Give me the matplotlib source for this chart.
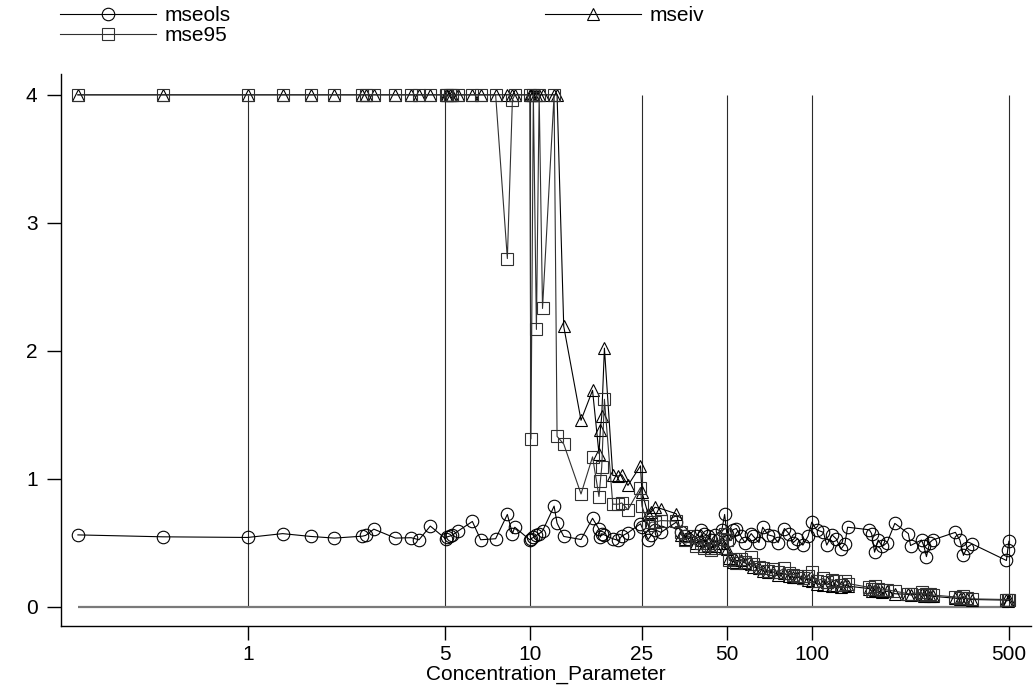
import matplotlib
matplotlib.use("Agg")
import matplotlib.pyplot as plt
from matplotlib.lines import Line2D

plt.rcParams["font.family"] = ["Liberation Sans", "DejaVu Sans"]

# concentration parameter values (shared by all three series)
conc = [0.25, 0.5, 1.0, 1.33, 1.67, 2.03, 2.55, 2.62, 2.8, 3.34, 3.8, 4.05, 4.44,
        5.03, 5.07, 5.2, 5.3, 5.57, 6.26, 6.7, 7.57, 8.33, 8.68, 8.85,
        10.0, 10.1, 10.3, 10.56, 10.8, 11.1, 12.2, 12.5, 13.2,
        15.2, 16.7, 17.6, 17.8, 18.0, 18.4, 19.7, 20.6, 21.2, 22.3, 24.7, 25.0,
        26.3, 27.0, 27.8, 29.2,
        33.1, 34.5, 35.5, 36.5, 39, 40.5, 41.5, 43, 44, 45.5, 48, 49.1,
        50, 51, 52.5, 54, 56, 58, 61, 62, 65, 67, 70, 73, 76, 80, 83, 86, 89, 93, 97,
        100, 104, 110, 113, 118, 122, 127, 131, 134,
        160, 163, 167, 172, 178, 185, 197,
        220, 224, 245, 250, 255, 262, 268,
        323, 335, 345, 355, 370,
        490, 495, 500]

mseols = [0.56, 0.545, 0.54, 0.57, 0.548, 0.535, 0.55, 0.556, 0.605, 0.535, 0.538, 0.522, 0.629,
          0.53, 0.543, 0.55, 0.556, 0.59, 0.665, 0.522, 0.53, 0.72, 0.57, 0.62,
          0.522, 0.53, 0.54, 0.556, 0.57, 0.59, 0.785, 0.652, 0.548,
          0.524, 0.69, 0.605, 0.543, 0.57, 0.56, 0.53, 0.517, 0.55, 0.577, 0.647, 0.62,
          0.524, 0.56, 0.6, 0.58,
          0.66, 0.58, 0.55, 0.53, 0.55, 0.6, 0.57, 0.55, 0.52, 0.56, 0.6, 0.72,
          0.57, 0.52, 0.6, 0.61, 0.55, 0.5, 0.57, 0.55, 0.5, 0.62, 0.56, 0.55, 0.5, 0.61, 0.57, 0.5, 0.53, 0.48, 0.55,
          0.66, 0.6, 0.58, 0.48, 0.56, 0.53, 0.45, 0.49, 0.62,
          0.6, 0.57, 0.425, 0.52, 0.47, 0.5, 0.65,
          0.57, 0.477, 0.52, 0.47, 0.39, 0.5, 0.52,
          0.58, 0.52, 0.4, 0.46, 0.49,
          0.36, 0.44, 0.51]

mseiv = [4] * 13 + [4] * 11 + \
        [4, 4, 4, 4, 4, 4, 4, 4, 2.19,
         1.456, 1.69, 1.195, 1.383, 1.487, 2.02, 1.025, 1.02, 1.03, 0.947, 1.10, 0.895,
         0.72, 0.74, 0.776, 0.765,
         0.725, 0.56, 0.53, 0.55, 0.5, 0.52, 0.47, 0.5, 0.46, 0.47, 0.5, 0.46,
         0.45, 0.38, 0.35, 0.36, 0.36, 0.34, 0.33, 0.31, 0.3, 0.28, 0.27, 0.27, 0.25, 0.26, 0.24, 0.23, 0.23, 0.22, 0.21,
         0.2, 0.18, 0.17, 0.19, 0.16, 0.17, 0.15, 0.17, 0.16,
         0.14, 0.12, 0.13, 0.12, 0.11, 0.12, 0.1,
         0.095, 0.09, 0.1, 0.085, 0.09, 0.085, 0.08,
         0.065, 0.06, 0.07, 0.06, 0.055,
         0.05, 0.045, 0.05]

mse95 = [4] * 13 + \
        [4, 4, 4, 4, 4, 4, 4, 4, 2.72, 3.96, 4,
         4, 1.31, 4, 2.166, 4, 2.33, 4, 1.33, 1.27,
         0.88, 1.17, 0.86, 0.98, 1.09, 1.62, 0.80, 0.80, 0.81, 0.757, 0.93, 0.785,
         0.64, 0.66, 0.66, 0.672,
         0.667, 0.58, 0.52, 0.55, 0.47, 0.5, 0.46, 0.48, 0.44, 0.46, 0.53, 0.57,
         0.52, 0.36, 0.37, 0.34, 0.37, 0.35, 0.39, 0.33, 0.31, 0.3, 0.28, 0.29, 0.27, 0.3, 0.26, 0.25, 0.24, 0.22, 0.24,
         0.27, 0.2, 0.22, 0.19, 0.21, 0.2, 0.17, 0.2, 0.18,
         0.15, 0.14, 0.16, 0.14, 0.13, 0.13, 0.12,
         0.1, 0.1, 0.11, 0.09, 0.1, 0.1, 0.09,
         0.075, 0.07, 0.08, 0.065, 0.06,
         0.055, 0.05, 0.055]

assert len(conc) == len(mseols) == len(mseiv) == len(mse95)

xticks = [1, 5, 10, 25, 50, 100, 500]
xlabels = ["1", "5", "10", "25", "50", "100", "500"]
yticks = [0, 1, 2, 3, 4]

fig = plt.figure(figsize=(10.36, 6.92), dpi=100)
ax = fig.add_axes([0.059, 0.0954, 0.936, 0.7977])
ax.set_xscale("log")

# reference lines
ax.vlines(xticks, 0, 4, color="#2b2b2b", lw=0.8, zorder=1)
ax.hlines(0, conc[0], conc[-1], color="#7a7a7a", lw=1.6, zorder=1)

base = dict(lw=0.8, mfc="none", mew=0.8)
ols_kw = dict(marker="o", ms=9, color="black", mec="black", **base)
iv_kw = dict(marker="^", ms=9, color="black", mec="black", **base)
s95_kw = dict(marker="s", ms=8.5, color="#303030", mec="#303030", **base)

ax.plot(conc, mseols, zorder=3, **ols_kw)
ax.plot(conc, mseiv, zorder=3, **iv_kw)
ax.plot(conc, mse95, zorder=3, **s95_kw)

ax.set_xlim(0.2180, 598)
ax.set_ylim(-0.152, 4.163)
ax.set_xticks(xticks)
ax.set_xticklabels(xlabels)
ax.minorticks_off()
ax.set_yticks(yticks)
ax.tick_params(axis="both", length=10, width=1, labelsize=15, colors="black")
ax.tick_params(axis="y", pad=7)
ax.tick_params(axis="x", pad=4)
ax.set_xlabel("Concentration_Parameter", fontsize=15, labelpad=0)
for s in ["top", "right"]:
    ax.spines[s].set_visible(False)
for s in ["left", "bottom"]:
    ax.spines[s].set_linewidth(1)

leg_kw = dict(loc="upper left", frameon=False, fontsize=15, numpoints=1,
              handlelength=4.6, handletextpad=0.4, borderpad=0, borderaxespad=0,
              labelspacing=0.05)
fig.legend(handles=[Line2D([], [], **ols_kw), Line2D([], [], **s95_kw)],
           labels=["mseols", "mse95"],
           bbox_to_anchor=(60 / 1036, 1 - 6 / 692), **leg_kw)
fig.legend(handles=[Line2D([], [], **iv_kw)], labels=["mseiv"],
           bbox_to_anchor=(545 / 1036, 1 - 6 / 692), **leg_kw)

fig.savefig("out.png", dpi=100)
